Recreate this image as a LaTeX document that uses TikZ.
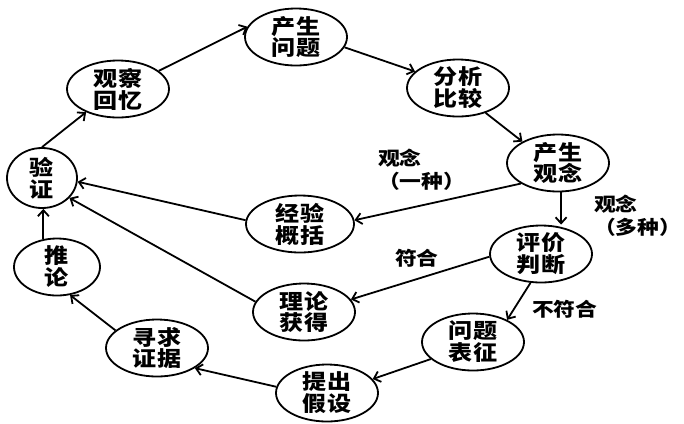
\documentclass[tikz,border=0pt]{standalone}
\usepackage{fontspec}
\newfontfamily\cjk{Noto Sans CJK SC}[FakeStretch=1.15]
\usetikzlibrary{shapes.geometric,arrows.meta}

\begin{document}
\begin{tikzpicture}[x=1bp,y=-1bp,
  stage/.style={ellipse,draw,line width=1.8bp,minimum width=102bp,minimum height=57bp,inner sep=-3bp,align=center,font=\cjk\bfseries\fontsize{21}{22}\selectfont},
  note/.style={anchor=west,align=left,inner sep=0pt,font=\cjk\bfseries\fontsize{19}{23}\selectfont},
  link/.style={-{Straight Barb[length=6bp,width=11bp]},line width=1.8bp}]
\useasboundingbox (0,0) rectangle (684,423);
\node[stage] (guancha) at (118,89) {观察\\回忆};
\node[stage] (wenti) at (296,37) {产生\\问题};
\node[stage] (fenxi) at (458,88) {分析\\比较};
\node[stage] (guannian) at (558,163) {产生\\观念};
\node[stage,minimum width=108bp] (jingyan) at (300,224) {经验\\概括};
\node[stage] (pingjia) at (541,254) {评价\\判断};
\node[stage] (lilun) at (304,312) {理论\\获得};
\node[stage] (biaozheng) at (473,342) {问题\\表征};
\node[stage] (jiashe) at (327,393) {提出\\假设};
\node[stage] (zhengju) at (157,348) {寻求\\证据};
\node[stage,minimum width=86bp] (tuilun) at (57,267) {推\\论};
\node[stage,minimum width=70bp,minimum height=60bp] (yanzheng) at (42,178) {验\\证};
\node[note] (yizhong) at (378,170) {观念\\（一种）};
\node[note] (duozhong) at (594,216) {观念\\（多种）};
\node[note] (fuhe) at (395,258) {符合};
\node[note] (bufuhe) at (532,309) {不符合};
\draw[link] (yanzheng.north) -- (guancha.216);
\draw[link] (guancha.24) -- (wenti.168);
\draw[link] (wenti.348) -- (fenxi.159);
\draw[link] (fenxi.318) -- (guannian.149);
\draw[link] (guannian.209) -- (jingyan.4);
\draw[link] (guannian.276) -- (guannian.276 |- pingjia.north);
\draw[link] (pingjia.183) -- (lilun.15);
\draw[link] (pingjia.250) -- (biaozheng.33);
\draw[link] (biaozheng.202) -- (jiashe.17);
\draw[link] (jiashe.173) -- (zhengju.332);
\draw[link] (zhengju.157) -- (tuilun.295);
\draw[link] (tuilun.116) -- (tuilun.116 |- yanzheng.south);
\draw[link] (jingyan.176) -- (yanzheng.354);
\draw[link] (lilun.168) -- (yanzheng.324);
\end{tikzpicture}
\end{document}
